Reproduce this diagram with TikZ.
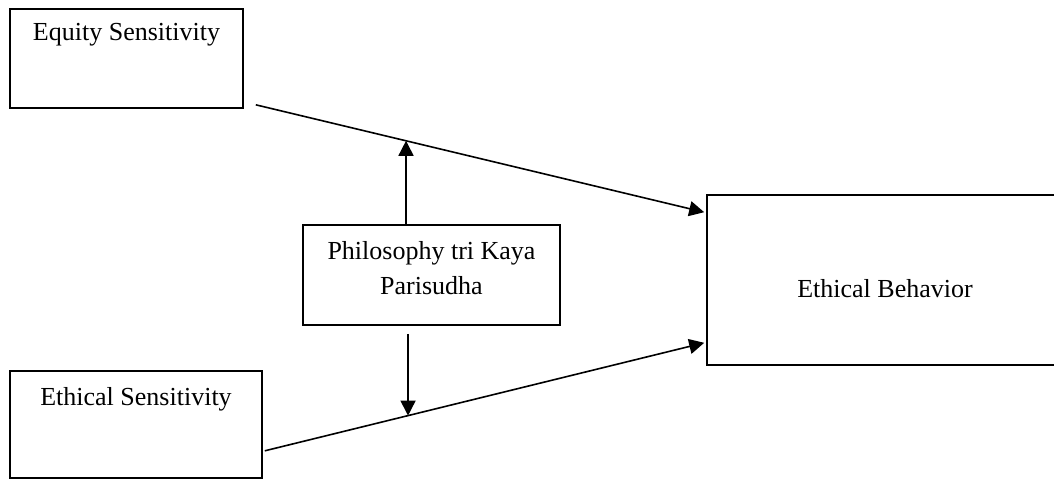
\documentclass[tikz,border=0pt]{standalone}
\usepackage{fontspec}
\setmainfont{Liberation Serif}
\usetikzlibrary{arrows.meta,positioning,calc}
\tikzset{
  bx/.style={draw, line width=0.8pt, inner sep=0pt},
  lab/.style={font=\fontsize{13}{17.5}\selectfont, align=center, anchor=center, inner sep=0pt},
  arr/.style={-{Triangle[length=7.5pt,width=7.5pt]}, line width=0.8pt},
}

\begin{document}
\begin{tikzpicture}[x=0.5pt,y=-0.5pt]
\useasboundingbox (0,0) rectangle (1054,479);
% boxes
\node[bx, minimum width=116.5pt, minimum height=49.5pt,
      label={[lab, yshift=-13pt]north:Equity Sensitivity}] (eq) at (126.5,58.5) {};
\node[bx, minimum width=126pt, minimum height=53.5pt,
      label={[lab, yshift=-14.5pt]north:Ethical Sensitivity}] (es) at (136,424.5) {};
\node[bx, minimum width=128.5pt, minimum height=50pt,
      label={[lab, yshift=3.5pt]center:Philosophy tri Kaya\\Parisudha}] (ph) at (431.5,275) {};
\node[bx, minimum width=181.5pt, minimum height=85pt,
      label={[lab, xshift=-1.75pt, yshift=-4.5pt]center:Ethical Behavior}] (eb) at (888.5,280) {};
% connectors
\coordinate (eqo) at ($(eq.south east)+(12,-4)$);
\coordinate (eso) at ($(es.south east)+(2,-28)$);
\coordinate (ebt) at ($(eb.north west)+(-2,18)$);
\coordinate (ebb) at ($(eb.south west)+(-2,-23)$);
\draw[arr] (eqo) -- (ebt);
\draw[arr] (eso) -- (ebb);
\coordinate (mu) at ($(eqo)!0.335!(ebt)$);
\coordinate (md) at ($(eso)!0.326!(ebb)$);
\draw[arr] (ph.north -| mu) -- (mu);
\draw[arr] ([yshift=-4pt]ph.south -| md) -- (md);
\end{tikzpicture}
\end{document}
